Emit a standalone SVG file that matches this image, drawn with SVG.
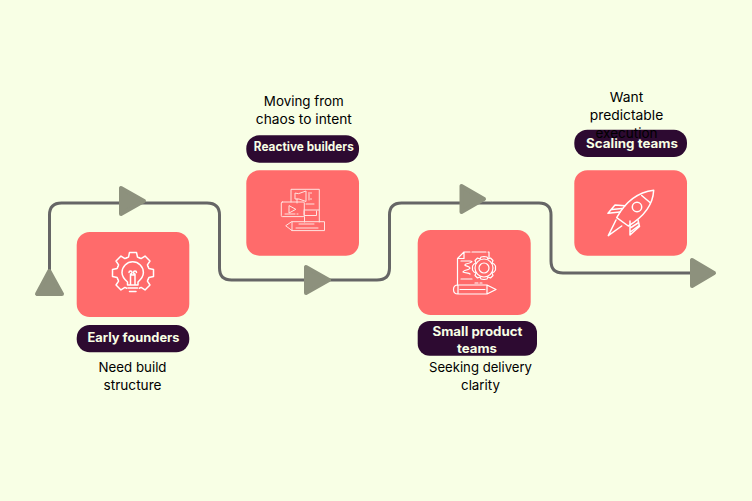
<svg xmlns="http://www.w3.org/2000/svg" width="752" height="501" viewBox="0 0 752 501">
<style>
.card{fill:#ff6b6b}
.pill{fill:#2d0a31}
.lbl{font-family:"Inter","Noto Sans","Liberation Sans",sans-serif;font-size:12.5px;font-weight:700;fill:#f8ffe5;text-anchor:middle}
.txt{font-family:"Inter","Noto Sans","Liberation Sans",sans-serif;font-size:13.5px;font-weight:400;fill:#000;text-anchor:middle}
.ic{fill:none;stroke:#fff;stroke-width:1.5;stroke-linejoin:round;stroke-linecap:round}
.ic2{fill:none;stroke:#ffe4e0;stroke-width:1;stroke-linejoin:round;stroke-linecap:round}
.line{fill:none;stroke:#666;stroke-width:3}
.tri{fill:#8d917d;stroke:#8d917d;stroke-width:4;stroke-linejoin:round}
</style>
<defs>
<path id="tooth" d="M-6.3 -15.2 L-4.5 -15.9 L-3.5 -20.5 H3.5 L4.5 -15.9 L6.3 -15.2"/>
</defs>
<rect width="752" height="501" fill="#f8ffe5"/>
<g id="connectors">
<path class="line" d="M49.500 285V215Q49.500 203 61.500 203H207Q219.500 203 219.500 215V268Q219.500 280 231.500 280H377Q389.500 280 389.500 268V215Q389.500 203 401.500 203H539Q551 203 551 215V261Q551 273 563 273H695"/>
<polygon class="tri" points="49.300,271 37,294 62,294"/>
<polygon class="tri" points="121,188 121,214 144,201"/>
<polygon class="tri" points="306,267 306,293 329,280"/>
<polygon class="tri" points="461.500,186 461.500,212 484,199"/>
<polygon class="tri" points="692,260 692,286 714,273"/>
</g>
<g id="node-early-founders">
<rect class="card" x="76.700" y="232" width="112.600" height="85" rx="13"/>
<g class="ic" transform="translate(133 273)">
<use href="#tooth" transform="rotate(-135)"/><use href="#tooth" transform="rotate(-90)"/><use href="#tooth" transform="rotate(-45)"/><use href="#tooth"/><use href="#tooth" transform="rotate(45)"/><use href="#tooth" transform="rotate(90)"/><use href="#tooth" transform="rotate(135)"/>
</g>
<path class="ic" d="M127.500 285V282C124 279 122 276 122 272.500A10.700 10.700 0 0 1 143.400 272.500C143.400 276 141.400 279 138 282V285ZM128 288H137.500M129.500 291.500H136M130.500 285V274M135 285V274M130.500 274A1.500 1.500 0 1 0 129 272.500M135 274A1.500 1.500 0 1 1 136.500 272.500M130.500 275H135"/>
<rect class="pill" x="76.700" y="325" width="112.600" height="27.300" rx="13"/>
<text class="lbl" x="133.500" y="342" textLength="92" lengthAdjust="spacingAndGlyphs">Early founders</text>
<text class="txt" x="132.500" y="372" textLength="68" lengthAdjust="spacingAndGlyphs">Need build</text>
<text class="txt" x="132.500" y="390" textLength="58" lengthAdjust="spacingAndGlyphs">structure</text>
</g>
<g id="node-reactive-builders">
<rect class="card" x="246.300" y="170.300" width="112.700" height="85.400" rx="13"/>
<g class="ic2">
<path d="M291 202V189.300H319.300V222M304.500 216.600V222"/>
<path d="M295 193.500V199H299L306 201.500V191L299 193.500ZM297 199V203M309 192.500V200M310.500 193H311.500M310.500 199H311.500"/>
<path d="M306 204H314M304 210H319M304 211V215.500H316.500V211"/>
<rect x="281.300" y="202" width="23" height="14.600" rx="1"/>
<path d="M289 206V213L295.500 209.500ZM285 214H295M297 214H298"/>
<path d="M292 221.700H324.500V230.600H292L286 226ZM292 221.700V230.600M299 224H314M296 228H318"/>
</g>
<rect class="pill" x="246.300" y="135.300" width="112.700" height="27.400" rx="13"/>
<text class="lbl" x="303.800" y="151" textLength="100" lengthAdjust="spacingAndGlyphs">Reactive builders</text>
<text class="txt" x="303.800" y="106" textLength="80" lengthAdjust="spacingAndGlyphs">Moving from</text>
<text class="txt" x="303.800" y="124" textLength="96" lengthAdjust="spacingAndGlyphs">chaos to intent</text>
</g>
<g id="node-small-product-teams">
<rect class="card" x="417.700" y="230" width="113" height="85" rx="13"/>
<g class="ic" style="stroke-width:1.200">
<path d="M472 252H486M488 252H489V258M457.500 285V258.500L464 252H470M464 252V258.500H457.500"/>
<path d="M461 261H470C474 261 471 263 466 264C462 266 470 266 470 268C470 270 463 270 463 272C465 273 469 273 470 274M461 279H472M475 283H478M480 283H482"/>
<circle cx="484" cy="268" r="5"/><circle cx="484" cy="268" r="9"/>
<path d="M484 256.500L487 257L488 259L490.500 258L493 260.500L492 263L494 264L495.500 266V270L494 272L492 273L493 275.500L490.500 278L488 277L487 279L484 279.500L481 279L480 277L477.500 278L475 275.500L476 273L474 272L472.500 270V266L474 264L476 263L475 260.500L477.500 258L480 259L481 257Z"/>
<path d="M458 285H487L496 289.500L487 294H458C452 294 452 285 458 285ZM458 285V294M487 285V294M460 289.500H485"/>
</g>
<rect class="pill" x="417.700" y="321" width="119.300" height="34.700" rx="12"/>
<text class="lbl" x="477.500" y="336" textLength="90" lengthAdjust="spacingAndGlyphs">Small product</text>
<text class="lbl" x="477" y="352.700" textLength="40" lengthAdjust="spacingAndGlyphs">teams</text>
<text class="txt" x="480.500" y="372" textLength="103" lengthAdjust="spacingAndGlyphs">Seeking delivery</text>
<text class="txt" x="480.500" y="390" textLength="39" lengthAdjust="spacingAndGlyphs">clarity</text>
</g>
<g id="node-scaling-teams">
<rect class="card" x="574.300" y="170.300" width="112.700" height="85.400" rx="13"/>
<g class="ic">
<path d="M653.700 190.300C640 192 627 199 616.700 217.700L628.300 226C645 216 653 205 653.700 190.300Z"/>
<path d="M641.700 195.500L650 202.500"/>
<circle cx="637" cy="207" r="4.700"/>
<path d="M620 212L608 213.300L615 205L625 205.700M612 209.500L622 208.500"/>
<path d="M630 221L630 235L639.500 226.500L638 220M631 227.500L638 223M631 231.500L639 225.500"/>
<path d="M616 220L608.300 235.700L621.700 226"/>
</g>
<rect class="pill" x="574.300" y="129.700" width="112.700" height="27.300" rx="13"/>
<text class="lbl" x="632" y="147.700" textLength="92" lengthAdjust="spacingAndGlyphs">Scaling teams</text>
<text class="txt" x="626.500" y="102" textLength="33.500" lengthAdjust="spacingAndGlyphs">Want</text>
<text class="txt" x="626.500" y="120" textLength="73.500" lengthAdjust="spacingAndGlyphs">predictable</text>
<text class="txt" x="626.500" y="137.500" textLength="62" lengthAdjust="spacingAndGlyphs">execution</text>
</g>
</svg>
